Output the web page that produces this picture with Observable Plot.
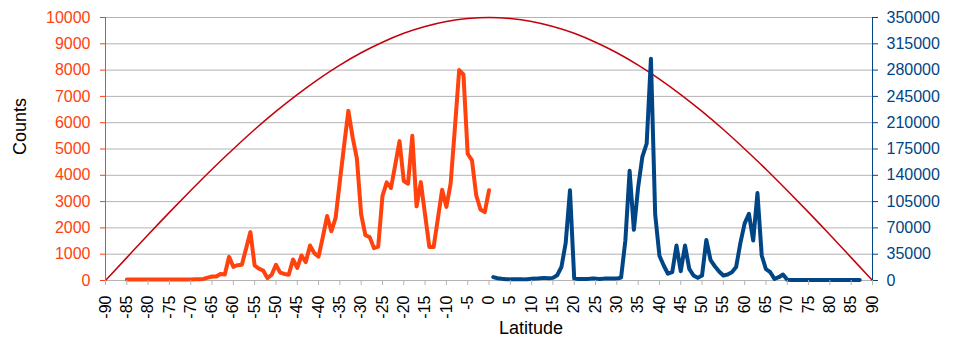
<!DOCTYPE html>
<html><head><meta charset="utf-8">
<script src="https://cdn.jsdelivr.net/npm/d3@7"></script>
<script src="https://cdn.jsdelivr.net/npm/@observablehq/plot@0.6"></script>
<style>
html,body{margin:0;padding:0;background:#fff;}
#chart svg{display:block;}
</style></head><body><div id="chart"></div>
<script>
// Southern-hemisphere counts (left axis)
const latSouth = [-85,-84,-83,-82,-81,-80,-79,-78,-77,-76,-75,-74,-73,-72,-71,-70,-69,-68,-67,-66,-65,-64,-63,-62,-61,-60,-59,-58,-57,-56,-55,-54,-53,-52,-51,-50,-49,-48,-47,-46,-45,-44,-43,-42,-41,-40,-39,-38,-37,-36,-35,-34,-33,-32,-31,-30,-29,-28,-27,-26,-25,-24,-23,-22,-21,-20,-19,-18,-17,-16,-15,-14,-13,-12,-11,-10,-9,-8,-7,-6,-5,-4,-3,-2,-1,0];
const countsSouth = [40,40,40,40,40,40,40,40,40,40,40,40,40,40,40,40,45,50,60,110,150,150,250,230,900,520,580,600,1220,1840,570,450,380,90,220,600,300,250,220,800,480,950,700,1330,1040,910,1650,2450,1870,2380,3770,5140,6450,5440,4630,2510,1720,1650,1230,1290,3220,3730,3520,4400,5300,3780,3680,5500,2820,3740,2500,1270,1270,2350,3450,2800,3690,5800,8000,7840,4820,4570,3240,2700,2600,3430];

// Northern-hemisphere counts (right axis)
const latNorth = [1,2,3,4,5,6,7,8,9,10,11,12,13,14,15,16,17,18,19,20,21,22,23,24,25,26,27,28,29,30,31,32,33,34,35,36,37,38,39,40,41,42,43,44,45,46,47,48,49,50,51,52,53,54,55,56,57,58,59,60,61,62,63,64,65,66,67,68,69,70,71,72,73,74,75,76,77,78,79,80,81,82,83,84,85,86,87];
const countsNorth = [4500,3000,2200,1800,1500,1500,1500,1500,1800,2200,2500,3000,3500,3000,3500,7000,18000,50000,120000,2500,2000,2000,2000,2500,2500,2000,2500,2500,2500,2500,4000,53000,146000,67500,124000,165000,182000,295000,88000,33000,20000,9000,11000,46600,12400,46600,15500,6700,3500,6700,54000,27000,19000,12000,6700,8000,11000,18000,50000,76000,88800,53300,116300,33300,15000,11000,2200,4400,8000,900,700,700,700,700,700,700,700,700,700,700,700,700,700,700,700,700,700];

// Red reference curve (left axis), read every 5 degrees
const latCurve = [-90,-85,-80,-75,-70,-65,-60,-55,-50,-45,-40,-35,-30,-25,-20,-15,-10,-5,0,5,10,15,20,25,30,35,40,45,50,55,60,65,70,75,80,85,90];
const curveValues = [0,870,1740,2590,3420,4230,5000,5740,6430,7070,7660,8190,8660,9060,9400,9660,9850,9960,10000,9960,9850,9660,9400,9060,8660,8190,7660,7070,6430,5740,5000,4230,3420,2590,1740,870,0];

// Axis ticks
const xTicks = [-90,-85,-80,-75,-70,-65,-60,-55,-50,-45,-40,-35,-30,-25,-20,-15,-10,-5,0,5,10,15,20,25,30,35,40,45,50,55,60,65,70,75,80,85,90];
const leftTicks = [0,1000,2000,3000,4000,5000,6000,7000,8000,9000,10000];
const rightTicks = [0,35000,70000,105000,140000,175000,210000,245000,280000,315000,350000];
const rightMax = 350000, leftMax = 10000;
const ratio = rightMax / leftMax;

const south = latSouth.map((lat, i) => ({lat, v: countsSouth[i]}));
const north = latNorth.map((lat, i) => ({lat, v: countsNorth[i] / ratio}));
const curve = latCurve.map((lat, i) => ({lat, v: curveValues[i]}));

const ORANGE = "#ff420e", BLUE = "#004586", RED = "#c5000b", GRID = "#b3b3b3";

const chart = Plot.plot({
  width: 954, height: 341,
  marginLeft: 105, marginRight: 82, marginTop: 17, marginBottom: 61,
  style: {fontFamily: "'Liberation Sans', Arial, sans-serif", fontSize: "16px", background: "#fff", color: "#000"},
  x: {domain: [-90, 90]},
  y: {domain: [0, leftMax]},
  marks: [
    Plot.gridY(leftTicks, {stroke: GRID, strokeOpacity: 1}),
    Plot.ruleY([0], {stroke: GRID}),
    Plot.line(curve, {x: "lat", y: "v", stroke: RED, strokeWidth: 1.5, curve: "natural"}),
    Plot.line(south, {x: "lat", y: "v", stroke: ORANGE, strokeWidth: 4, strokeLinejoin: "round"}),
    Plot.line(north, {x: "lat", y: "v", stroke: BLUE, strokeWidth: 4, strokeLinejoin: "round"}),
    Plot.ruleX([-90], {stroke: ORANGE}),
    Plot.ruleX([90], {stroke: BLUE}),
    Plot.axisX(xTicks, {anchor: "bottom", tickRotate: -90, tickSize: 5, tickPadding: 10, tickFormat: d => String(d), stroke: GRID, fill: "#000", fontSize: 16, label: null}),
    Plot.axisY(leftTicks, {anchor: "left", tickSize: 5, tickPadding: 10, tickFormat: d => String(d), color: ORANGE, fontSize: 16, label: null}),
    Plot.axisY(rightTicks.map(t => t / ratio), {anchor: "right", tickSize: 5, tickPadding: 9, tickFormat: d => String(Math.round(d * ratio)), color: BLUE, fontSize: 16, label: null}),
    Plot.text(["Latitude"], {frameAnchor: "bottom", dx: 42, dy: 53, fontSize: 18, fill: "#000"}),
    Plot.text(["Counts"], {frameAnchor: "left", dx: -85, dy: 6, rotate: -90, fontSize: 18, fill: "#000"})
  ]
});
document.getElementById("chart").appendChild(chart);
</script>
</body></html>
